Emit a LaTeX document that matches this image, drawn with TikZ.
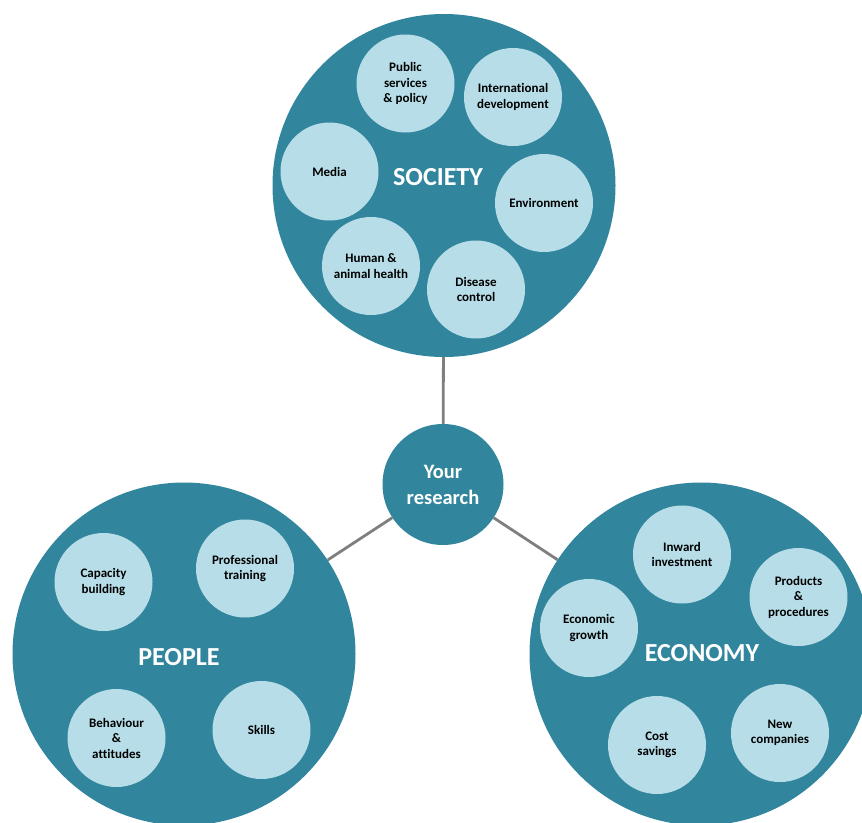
\documentclass[tikz,border=0pt]{standalone}
\usepackage{fontspec}
\setmainfont{Carlito}[Ligatures={NoCommon}]
\definecolor{areablue}{HTML}{31859C}
\definecolor{bubbleblue}{HTML}{B7DEE8}
\definecolor{linkgrey}{HTML}{7F7F7F}

\tikzset{
 area/.style={circle, fill=areablue, minimum size=343pt, inner sep=0pt},
 areatext/.style={text=white, font=\bfseries\fontsize{26}{30}\selectfont},
 core/.style={circle, fill=areablue, minimum size=121pt, inner sep=0pt, text=white, align=center, font=\bfseries\fontsize{20.5}{26}\selectfont},
 bubble/.style={circle, fill=bubbleblue, minimum size=98pt, inner sep=0pt, align=center, font=\bfseries\fontsize{13}{15.5}\selectfont},
 link/.style={draw=linkgrey, line width=2.8pt}
}

\begin{document}
\begin{tikzpicture}[x=1pt, y=-1pt]
 \useasboundingbox (0,0) rectangle (862,822);
 \clip (0,0) rectangle (862,822);

 \node[area] (society) at (444,185.5) {};
 \node[area] (people) at (184,654) {};
 \node[area] (economy) at (701,654) {};
 \node[core] (research) at (443,484.5) {Your\\research};

 \draw[link] (society) -- (research);
 \draw[link] (research) -- (people);
 \draw[link] (research) -- (economy);

 \node[areatext] (societytxt) at (438,177) {SOCIETY};
 \node[areatext] (peopletxt) at (179,657) {PEOPLE};
 \node[areatext] (economytxt) at (702,653) {ECONOMY};

 \node[bubble] (public) at (405.5,83.5) {Public\\services\\\& policy};
 \node[bubble] (intl) at (513,97) {International\\development};
 \node[bubble] (media) at (329.5,171.5) {Media};
 \node[bubble] (env) at (544,203) {Environment};
 \node[bubble] (health) at (371,266) {Human \&\\animal health};
 \node[bubble] (disease) at (476,289.5) {Disease\\control};

 \node[bubble] (capacity) at (103.5,582) {Capacity\\building};
 \node[bubble] (training) at (245,568.5) {Professional\\training};
 \node[bubble] (behaviour) at (116.5,738) {Behaviour\\\&\\attitudes};
 \node[bubble] (skills) at (261.5,730) {Skills};

 \node[bubble] (inward) at (682,554.5) {Inward\\investment};
 \node[bubble] (products) at (798.5,597) {Products\\\&\\procedures};
 \node[bubble] (growth) at (589,628) {Economic\\growth};
 \node[bubble] (newcomp) at (780,733) {New\\companies};
 \node[bubble] (savings) at (657,745) {Cost\\savings};

\end{tikzpicture}
\end{document}
